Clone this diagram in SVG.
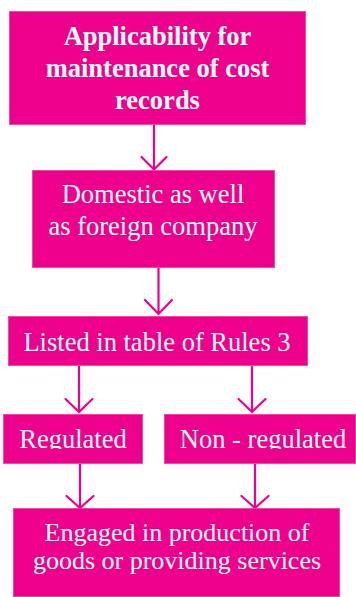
<svg xmlns="http://www.w3.org/2000/svg" width="356" height="597" viewBox="0 0 356 597">
<style>
.box{fill:#EC008C;stroke:#F04AA8;stroke-width:1}
.t{font-family:"Liberation Serif","Times New Roman",serif;font-size:26.5px;fill:#fff;text-anchor:middle}
.b{font-weight:bold}
.s{font-size:26px}
.c{fill:none;stroke:#EC008C;stroke-width:2.2;stroke-linecap:round;stroke-linejoin:miter}
</style>
<defs>
<clipPath id="cl"><rect x="0" y="400" width="356" height="49"/></clipPath>
</defs>
<rect width="356" height="597" fill="#fff"/>
<g id="connectors">
<path class="c" d="M154 125V169M141.5 157L154 169.5L166.5 157"/>
<path class="c" d="M158.5 268V314M145 300L158.5 314L172 300"/>
<path class="c" d="M79 366V411M65.5 399L79 412L92.5 399"/>
<path class="c" d="M252 366V411M238.5 399L252 412L265.5 399"/>
<path class="c" d="M80 464V507M66.5 496L80 508L93.5 496"/>
<path class="c" d="M255 464V507M241.5 496L255 508L268.5 496"/>
</g>
<g id="n1">
<rect class="box" x="9.5" y="11.5" width="296" height="113"/>
<text class="t b" x="157.5" y="45">Applicability for</text>
<text class="t b" x="157.5" y="77">maintenance of cost</text>
<text class="t b" x="157.5" y="109">records</text>
</g>
<g id="n2">
<rect class="box" x="32.5" y="170.5" width="242" height="97"/>
<text class="t" x="153" y="203">Domestic as well</text>
<text class="t" x="153" y="235">as foreign company</text>
</g>
<g id="n3">
<rect class="box" x="8.5" y="316.5" width="299" height="49"/>
<text class="t" x="157" y="351">Listed in table of Rules 3</text>
</g>
<g id="n4">
<rect class="box" x="3.5" y="414.5" width="139" height="49"/>
<text class="t" x="73" y="448" clip-path="url(#cl)">Regulated</text>
</g>
<g id="n5">
<rect class="box" x="164.5" y="414.5" width="191" height="49"/>
<text class="t" x="263" y="448" clip-path="url(#cl)">Non - regulated</text>
</g>
<g id="n6">
<rect class="box" x="13.5" y="508.5" width="326" height="88"/>
<text class="t s" x="177" y="541">Engaged in production of</text>
<text class="t s" x="177" y="569">goods or providing services</text>
</g>
</svg>
